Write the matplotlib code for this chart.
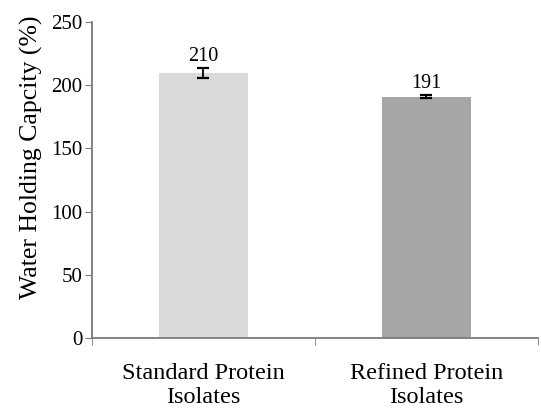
import matplotlib
matplotlib.use("Agg")
import matplotlib.pyplot as plt
from matplotlib.ticker import FixedLocator

categories = ["Standard Protein\nIsolates", "Refined Protein\nIsolates"]
values = [210, 191]
errors = [4, 1]
labels = ["210", "191"]
colors = ["#d9d9d9", "#a6a6a6"]

plt.rcParams['font.family'] = ['Liberation Serif', 'DejaVu Serif']

fig = plt.figure(figsize=(5.41, 4.09), dpi=100)
ax = fig.add_axes([0.170, 0.174, 0.824, 0.772])

x = list(range(len(categories)))
ax.bar(x, values, width=0.4, color=colors, zorder=2)
ax.errorbar(x, values, yerr=errors, fmt='none', ecolor='black', elinewidth=1.3,
            capsize=4, capthick=1.6, zorder=3)
for xi, v, e, lab in zip(x, values, errors, labels):
    ax.text(xi, v + e + 1.5, lab, ha='center', va='bottom', fontsize=14.5)

ax.set_xlim(-0.5, 1.5)
ax.set_ylim(0, 250)
ax.set_yticks([0, 50, 100, 150, 200, 250])
ax.set_xticks(x)
ax.set_xticklabels(categories, fontsize=17.5, linespacing=1.2)
ax.xaxis.set_minor_locator(FixedLocator([-0.5, 0.5, 1.5]))
ax.tick_params(axis='x', which='major', length=0, pad=18)
ax.tick_params(axis='x', which='minor', length=5, color='#7a7a7a', direction='out')
ax.tick_params(axis='y', length=5, color='#7a7a7a', labelsize=15, direction='out', pad=2)
for s in ['top', 'right']:
    ax.spines[s].set_visible(False)
for s in ['left', 'bottom']:
    ax.spines[s].set_color('#7a7a7a')
    ax.spines[s].set_linewidth(1.3)
ax.set_ylabel("Water Holding Capcity (%)", fontsize=18.5)
ax.yaxis.set_label_coords(-0.11, 0.573)

fig.savefig("out.png", dpi=100)
